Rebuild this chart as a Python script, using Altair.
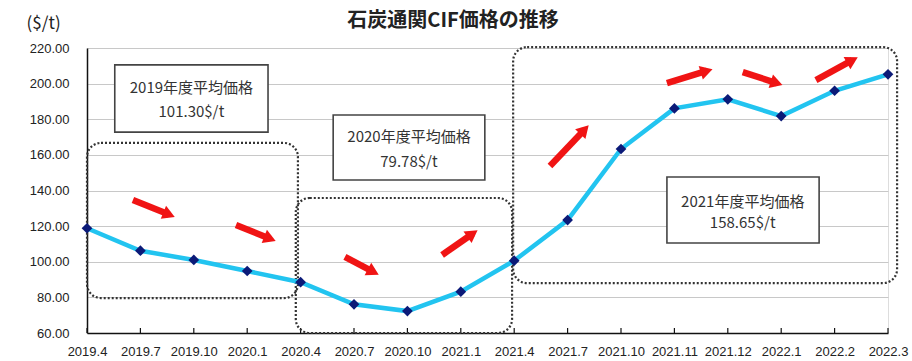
import math
import altair as alt
import pandas as pd

# ---- data ----
title_text = "石炭通関CIF価格の推移"
labels = ["2019.4", "2019.7", "2019.10", "2020.1", "2020.4", "2020.7", "2020.10", "2021.1",
          "2021.4", "2021.7", "2021.10", "2021.11", "2021.12", "2022.1", "2022.2", "2022.3"]
prices = [118.8, 106.2, 101.0, 94.8, 88.5, 76.1, 72.3, 83.2,
          100.6, 123.4, 163.3, 186.1, 191.2, 181.8, 196.0, 205.2]

# dotted rounded frames (x in category index, y in $/t)
frame_x1 = [0.0, 3.91, 7.98]
frame_x2 = [3.95, 7.96, 15.17]
frame_y1 = [166.7, 135.8, 220.5]
frame_y2 = [79.6, 60.0, 88.0]

# annotation boxes
box_x1 = [0.52, 4.61, 10.86]
box_x2 = [3.39, 7.45, 13.71]
box_y1 = [210.5, 182.4, 147.6]
box_y2 = [172.8, 145.9, 110.5]
box_cx = [1.955, 6.03, 12.28]
box_line1_y = [197.3, 169.8, 133.3]
box_line2_y = [184.3, 156.2, 121.8]
box_line1 = ["2019年度平均価格", "2020年度平均価格", "2021年度平均価格"]
box_line2 = ["101.30$/t", "79.78$/t", "158.65$/t"]

# red trend arrows: start and tip
arrow_x1 = [0.86, 2.79, 4.83, 6.65, 8.67, 10.86, 12.28, 13.65]
arrow_y1 = [134.7, 120.6, 102.7, 103.8, 153.7, 200.3, 206.5, 202.0]
arrow_x2 = [1.65, 3.54, 5.47, 7.32, 9.40, 11.72, 13.03, 14.44]
arrow_y2 = [125.1, 111.6, 92.6, 117.8, 176.8, 208.2, 199.2, 214.9]

# ---- layout ----
W, H = 801, 285
XMAX = len(labels) - 1
YMIN, YMAX = 60, 220
px_x = W / XMAX
px_y = H / (YMAX - YMIN)

main = pd.DataFrame({"i": list(range(len(labels))), "label": labels, "price": prices})
frames = pd.DataFrame({"x1": frame_x1, "x2": frame_x2, "y1": frame_y1, "y2": frame_y2})
boxes = pd.DataFrame({"x1": box_x1, "x2": box_x2, "y1": box_y1, "y2": box_y2,
                      "cx": box_cx, "l1y": box_line1_y, "l2y": box_line2_y,
                      "t1": box_line1, "t2": box_line2})

rows = []
for x1, y1, x2, y2 in zip(arrow_x1, arrow_y1, arrow_x2, arrow_y2):
    dxp = (x2 - x1) * px_x
    dyp = -(y2 - y1) * px_y
    L = math.hypot(dxp, dyp)
    ux, uy = dxp / L, dyp / L
    back = 6.5
    hx = x2 - back * ux / px_x
    hy = y2 + back * uy / px_y
    ang = math.degrees(math.atan2(dyp, dxp)) % 360
    rows.append({"x1": x1, "y1": y1, "hx": hx, "hy": hy, "ang": ang})
arrows = pd.DataFrame(rows)

label_js = "[" + ",".join("'" + s + "'" for s in labels) + "]"

xs = alt.Scale(domain=[0, XMAX], nice=False, zero=False)
ys = alt.Scale(domain=[YMIN, YMAX], nice=False, zero=False)

x_axis = alt.Axis(values=list(range(len(labels))), labelExpr=label_js + "[datum.value]",
                  grid=False, ticks=False, labelPadding=12, domainColor="#111",
                  domainWidth=1.5, labelFontSize=13, labelFont="Liberation Sans",
                  labelColor="#222", title=None, labelOverlap=False, labelFlush=False)
y_axis = alt.Axis(values=list(range(YMIN, YMAX + 1, 20)), format=".2f", grid=True,
                  gridColor="#c8c8c8", gridWidth=1, ticks=False, labelPadding=18,
                  domainColor="#111", domainWidth=1.5, labelFontSize=13,
                  labelFont="Liberation Sans", labelColor="#222", labelOverlap=False,
                  labelFlush=False,
                  title="($/t)", titleAngle=0, titleX=-61, titleY=-16, titleAlign="left",
                  titleBaseline="bottom", titleFont="Noto Sans CJK JP", titleFontSize=17,
                  titleFontWeight="normal", titleColor="#222")


def X(f):
    return alt.X(f, scale=xs, axis=x_axis)


def Y(f):
    return alt.Y(f, scale=ys, axis=y_axis)


base_line = alt.Chart(main).mark_line(color="#22c4f0", strokeWidth=4.5).encode(
    x=X("i:Q"), y=Y("price:Q"),
)

ticks = alt.Chart(main).mark_rule(color="#111", strokeWidth=1.2).encode(
    x=X("i:Q"), y=alt.datum(YMIN, scale=ys, axis=y_axis), y2=alt.datum(YMIN + 5 / px_y)
)

frame_layer = alt.Chart(frames).mark_rect(
    fillOpacity=0, stroke="#333", strokeWidth=2.2, strokeDash=[2, 2], cornerRadius=14
).encode(x=X("x1:Q"), x2="x2:Q", y=Y("y1:Q"), y2="y2:Q")

box_layer = alt.Chart(boxes).mark_rect(
    fill="white", stroke="#444", strokeWidth=1.6
).encode(x=X("x1:Q"), x2="x2:Q", y=Y("y1:Q"), y2="y2:Q")

text1 = alt.Chart(boxes).mark_text(
    font="Noto Sans CJK JP", fontSize=15, color="#333", baseline="middle"
).encode(x=X("cx:Q"), y=Y("l1y:Q"), text="t1:N")
text2 = alt.Chart(boxes).mark_text(
    font="Noto Sans CJK JP", fontSize=15, color="#333", baseline="middle"
).encode(x=X("cx:Q"), y=Y("l2y:Q"), text="t2:N")

pts = alt.Chart(main).mark_point(
    shape="diamond", filled=True, color="#0b1a78", size=115, opacity=1
).encode(x=X("i:Q"), y=Y("price:Q"))

shafts = alt.Chart(arrows).mark_rule(color="#f01414", strokeWidth=6.5, strokeCap="butt").encode(
    x=X("x1:Q"), x2="hx:Q", y=Y("y1:Q"), y2="hy:Q"
)
heads = alt.Chart(arrows).mark_point(
    shape="triangle-right", filled=True, color="#f01414", size=200, opacity=1
).encode(x=X("hx:Q"), y=Y("hy:Q"), angle=alt.Angle("ang:Q", scale=None))

title_layer = alt.Chart(pd.DataFrame({"t": [title_text]})).mark_text(
    font="Noto Sans CJK JP", fontSize=20, fontWeight="bold", color="#222",
    align="center", baseline="middle"
).encode(x=alt.value(366), y=alt.value(-27), text="t:N")

chart = alt.layer(
    ticks, frame_layer, box_layer, text1, text2, base_line, pts, shafts, heads, title_layer
).properties(
    width=W, height=H,
    autosize=alt.AutoSizeParams(type="none"),
    padding={"left": 87, "top": 48, "right": 24, "bottom": 28},
).configure_view(stroke="#9a9a9a", strokeWidth=1.2).configure(background="white")

chart.save("out.html", embed_options={"renderer": "svg", "actions": False})
